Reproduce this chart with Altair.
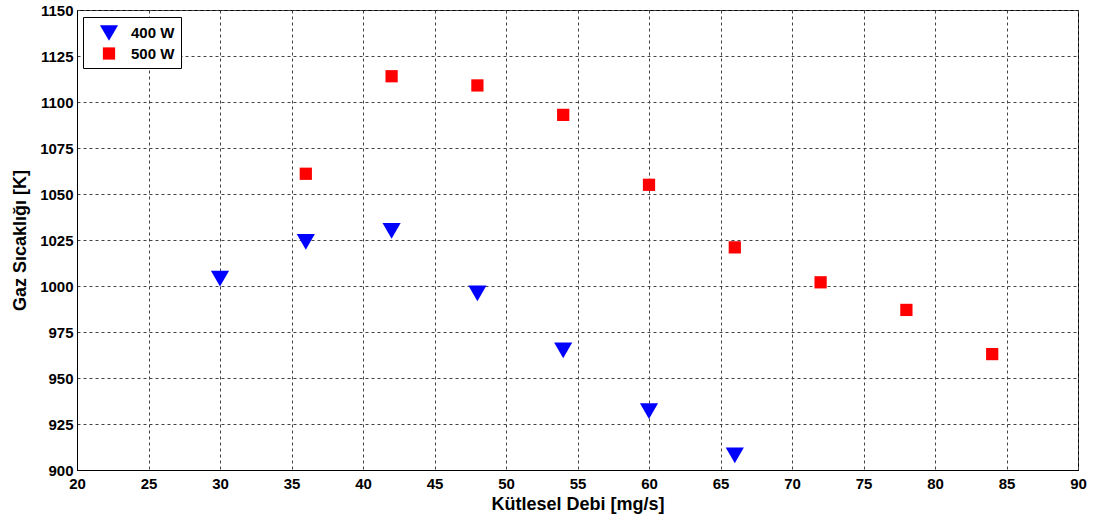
import altair as alt
import pandas as pd

series_names = ["400 W", "500 W"]

x_400 = [30, 36, 42, 48, 54, 60, 66]
y_400 = [1004, 1024, 1030, 996, 965, 932, 908]

x_500 = [36, 42, 48, 54, 60, 66, 72, 78, 84]
y_500 = [1061, 1114, 1109, 1093, 1055, 1021, 1002, 987, 963]

x_ticks = list(range(20, 91, 5))
y_ticks = list(range(900, 1151, 25))

rows = [{"debi": x, "sicaklik": y, "seri": series_names[0]} for x, y in zip(x_400, y_400)]
rows += [{"debi": x, "sicaklik": y, "seri": series_names[1]} for x, y in zip(x_500, y_500)]
df = pd.DataFrame(rows)

FONT = "Liberation Sans"

chart = alt.Chart(df).mark_point(filled=True, opacity=1).encode(
    x=alt.X("debi:Q", scale=alt.Scale(domain=[20, 90], nice=False, zero=False),
            axis=alt.Axis(values=x_ticks, title="Kütlesel Debi [mg/s]", format="d",
                          labelFont=FONT, labelFontWeight="bold", labelFontSize=15,
                          labelColor="black", titleFont=FONT, titleFontWeight="bold",
                          titleFontSize=18, titleColor="black", titlePadding=4,
                          tickSize=0, labelPadding=6, domainColor="black",
                          gridColor="#444", gridDash=[3, 3], gridOpacity=1, labelFlush=False)),
    y=alt.Y("sicaklik:Q", scale=alt.Scale(domain=[900, 1150], nice=False, zero=False),
            axis=alt.Axis(values=y_ticks, title="Gaz Sıcaklığı [K]", format="d",
                          labelFont=FONT, labelFontWeight="bold", labelFontSize=15,
                          labelColor="black", titleFont=FONT, titleFontWeight="bold",
                          titleFontSize=18, titleColor="black", titlePadding=10,
                          tickSize=0, labelPadding=4, domainColor="black",
                          gridColor="#444", gridDash=[3, 3], gridOpacity=1)),
    color=alt.Color("seri:N", scale=alt.Scale(domain=series_names, range=["#0000ff", "#ff0000"]),
                    legend=alt.Legend(title=None, orient="none", legendX=6, legendY=7,
                                      labelFont=FONT, labelFontWeight="bold", labelFontSize=15,
                                      labelColor="black", strokeColor="black", fillColor="white",
                                      padding=6, symbolSize=110, rowPadding=5, labelOffset=12,
                                      symbolOffset=10)),
    shape=alt.Shape("seri:N", scale=alt.Scale(domain=series_names, range=["triangle-down", "square"]),
                    legend=None),
    size=alt.Size("seri:N", scale=alt.Scale(domain=series_names, range=[330, 150]), legend=None),
).properties(
    width=1001,
    height=460,
    autosize=alt.AutoSizeParams(type="none"),
    padding={"left": 77, "top": 10, "right": 16, "bottom": 50},
    background="white",
).configure_view(stroke="black", strokeWidth=1)

chart.save("out.html", embed_options={"renderer": "svg", "actions": False})
